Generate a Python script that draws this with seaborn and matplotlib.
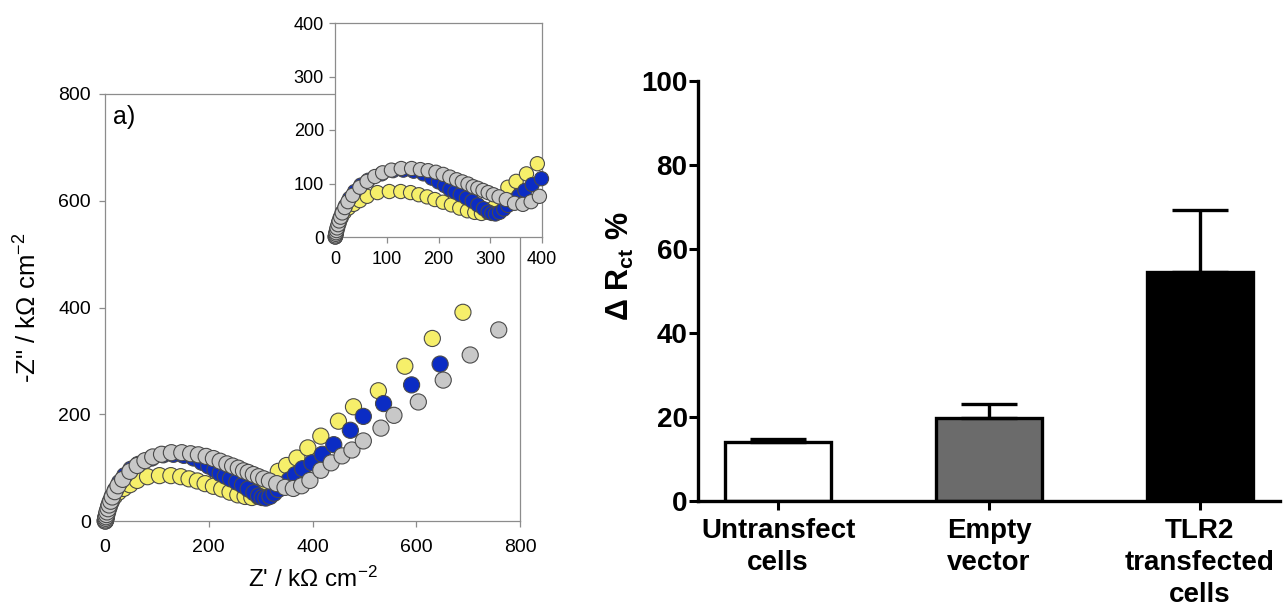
import numpy as np
import pandas as pd
import matplotlib
matplotlib.use('Agg')
import matplotlib.pyplot as plt
import seaborn as sns

# ---------------- data: Nyquist plot (Z' , -Z'') ----------------
yellow_x = [1, 2, 3, 5, 8, 12, 18, 26, 36, 48, 62, 82, 105, 127, 146, 162, 178, 193,
            209, 225, 241, 256, 270, 283, 296, 308, 320, 334, 350, 370, 391, 416, 450,
            479, 527, 578, 631, 690]
yellow_y = [1, 5, 10, 17, 26, 36, 46, 54, 61, 68, 76, 83, 85, 85, 83, 79, 75, 70,
            65, 60, 54, 49, 46, 44, 46, 56, 74, 93, 104, 118, 137, 159, 187,
            214, 244, 290, 342, 391]

blue_x = [0.5, 1, 2, 3, 5, 7, 10, 14, 20, 28, 38, 50, 64, 90, 112, 132, 152, 171, 187,
          200, 212, 222, 232, 242, 254, 265, 276, 287, 296, 303, 310, 318, 326, 334,
          344, 355, 367, 381, 399, 419, 441, 473, 498, 537, 591, 646]
blue_y = [0, 3, 7, 12, 19, 27, 36, 46, 58, 72, 85, 97, 106, 118, 124, 125, 123, 118, 110,
          103, 96, 89, 84, 79, 73, 67, 60, 53, 47, 44, 43, 46, 52, 59,
          67, 77, 87, 98, 109, 125, 143, 170, 196, 220, 255, 294]

gray_x = [0.5, 1, 1.5, 2, 3, 4, 6, 8, 11, 14, 19, 25, 34, 48, 62, 77, 92, 109, 128, 148,
          165, 180, 195, 209, 222, 235, 246, 257, 267, 276, 286, 296, 306, 317, 331, 347,
          363, 379, 395, 416, 436, 457, 476, 498, 532, 557, 604, 652, 704, 759]
gray_y = [0, 2, 5, 8, 12, 17, 23, 30, 37, 45, 55, 66, 78, 93, 104, 113, 120, 125, 128, 128,
          126, 124, 121, 117, 112, 107, 103, 99, 94, 91, 87, 83, 79, 75, 70, 63,
          61, 66, 76, 95, 109, 122, 133, 150, 174, 198, 223, 264, 311, 358]

# ---------------- data: bar chart ----------------
categories = ['Untransfect\ncells', 'Empty\nvector', 'TLR2\ntransfected\ncells']
delta_rct = [14.0, 19.8, 54.5]
delta_rct_err = [0.8, 3.3, 14.8]

main_ticks = [0, 200, 400, 600, 800]
inset_ticks = [0, 100, 200, 300, 400]
bar_ticks = [0, 20, 40, 60, 80, 100]

# ---------------- style ----------------
sns.set_style('white')
plt.rcParams['font.family'] = ['Liberation Sans', 'DejaVu Sans']
plt.rcParams['mathtext.fontset'] = 'custom'
plt.rcParams['mathtext.rm'] = 'Liberation Sans'
plt.rcParams['mathtext.it'] = 'Liberation Sans:italic'
plt.rcParams['mathtext.bf'] = 'Liberation Sans:bold'
plt.rcParams['text.color'] = 'black'
plt.rcParams['axes.labelcolor'] = 'black'
plt.rcParams['xtick.labelcolor'] = 'black'
plt.rcParams['ytick.labelcolor'] = 'black'

series_order = ['yellow', 'blue', 'gray']
palette = {'yellow': '#f6ef6a', 'blue': '#0b2cc4', 'gray': '#c8c8c8'}

df = pd.concat([
    pd.DataFrame({'x': yellow_x, 'y': yellow_y, 'series': 'yellow'}),
    pd.DataFrame({'x': blue_x, 'y': blue_y, 'series': 'blue'}),
    pd.DataFrame({'x': gray_x, 'y': gray_y, 'series': 'gray'}),
], ignore_index=True)

fig = plt.figure(figsize=(12.87, 6.11), dpi=100)
spine_gray = '#8c8c8c'


def style_gray(ax, fs, pad):
    for sp in ax.spines.values():
        sp.set_color(spine_gray)
        sp.set_linewidth(0.9)
        sp.set_visible(True)
    ax.tick_params(axis='both', which='major', direction='out', length=4, width=0.9,
                   color=spine_gray, labelsize=fs, labelcolor='black', pad=pad,
                   bottom=True, left=True)


# main Nyquist plot
ax = fig.add_axes([105 / 1287, (611 - 521) / 611, 415 / 1287, 427 / 611])
sns.scatterplot(data=df, x='x', y='y', hue='series', hue_order=series_order,
                palette=palette, s=135, edgecolor='#4a4a4a', linewidth=0.8,
                legend=False, ax=ax, clip_on=False, zorder=3)
ax.set_xlim(0, 800)
ax.set_ylim(0, 800)
ax.set_xticks(main_ticks)
ax.set_yticks(main_ticks)
style_gray(ax, 14, 6)
ax.tick_params(axis='x', pad=9)
ax.set_xlabel("Z' / k\u03A9 cm$^{-2}$", fontsize=17.5, labelpad=8)
ax.set_ylabel('-Z" / k\u03A9 cm$^{-2}$', fontsize=18.5, labelpad=12)
ax.text(0.02, 0.975, 'a)', transform=ax.transAxes, ha='left', va='top', fontsize=18)

# inset
axi = fig.add_axes([335 / 1287, (611 - 237) / 611, 207 / 1287, 214 / 611])
axi.set_facecolor('white')
axi.set_zorder(5)
dfi = df[df['x'] <= 402]
sns.scatterplot(data=dfi, x='x', y='y', hue='series', hue_order=series_order,
                palette=palette, s=105, edgecolor='#4a4a4a', linewidth=0.8,
                legend=False, ax=axi, clip_on=False, zorder=3)
axi.set_xlim(0, 400)
axi.set_ylim(0, 400)
axi.set_xticks(inset_ticks)
axi.set_yticks(inset_ticks)
style_gray(axi, 13, 4)
axi.tick_params(axis='x', pad=6)
axi.set_xlabel('')
axi.set_ylabel('')

# bar chart
bx = fig.add_axes([698 / 1287, (611 - 501) / 611, 582 / 1287, 420 / 611])
bar_df = pd.DataFrame({'cat': categories, 'val': delta_rct})
sns.barplot(data=bar_df, x='cat', y='val', hue='cat', hue_order=categories,
            palette=['white', '#6b6b6b', 'black'], edgecolor='black', linewidth=2.4,
            width=0.5, errorbar=None, legend=False, ax=bx, zorder=2)
bx.errorbar(np.arange(len(categories)), delta_rct,
            yerr=[np.zeros(len(categories)), delta_rct_err],
            fmt='none', ecolor='black', elinewidth=2.4, capsize=20, capthick=2.4, zorder=3)
bx.set_xlim(-0.38, 2.38)
bx.set_ylim(0, 100)
bx.set_yticks(bar_ticks)
for side in ['top', 'right']:
    bx.spines[side].set_visible(False)
for side in ['left', 'bottom']:
    bx.spines[side].set_color('black')
    bx.spines[side].set_linewidth(2.4)
bx.tick_params(axis='both', direction='out', length=6.5, width=2.2, color='black',
               labelsize=20, labelcolor='black', bottom=True, left=True)
bx.tick_params(axis='y', pad=1)
bx.tick_params(axis='x', pad=6)
for lab in bx.get_xticklabels() + bx.get_yticklabels():
    lab.set_fontweight('bold')
for lab in bx.get_xticklabels():
    lab.set_linespacing(1.3)
bx.set_xlabel('')
bx.set_ylabel('\u0394 R$_{\\mathbf{ct}}$ %', fontsize=22, fontweight='bold')
bx.yaxis.set_label_coords(-0.107, 0.56)

fig.savefig('out.png', dpi=100, facecolor='white')
